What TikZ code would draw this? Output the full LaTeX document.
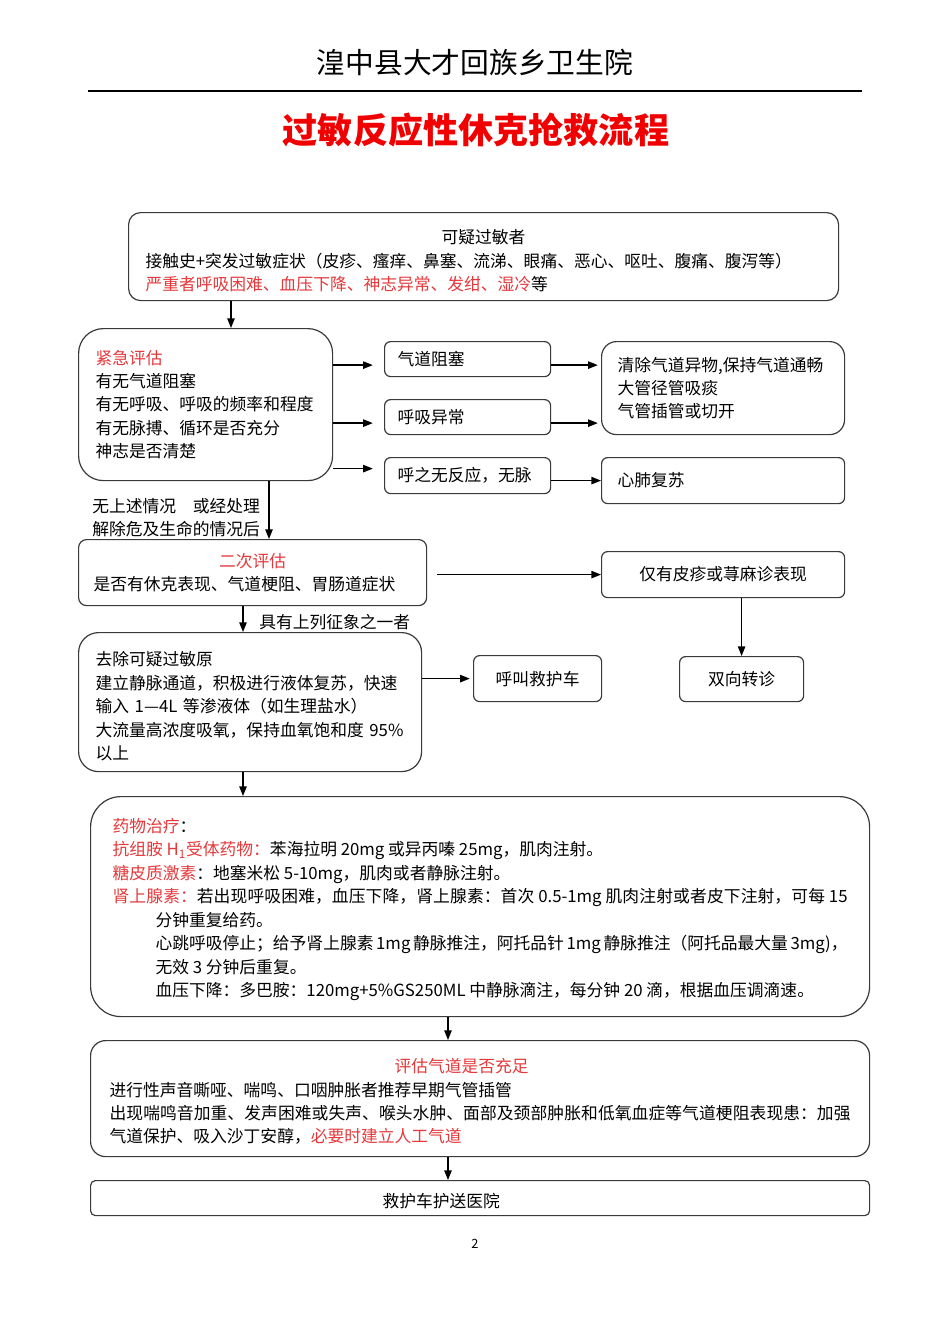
\documentclass[tikz,border=0pt]{standalone}
\usepackage{fontspec}
\setmainfont{Noto Sans CJK SC}
\usetikzlibrary{arrows.meta,positioning,calc}
\definecolor{HeadRed}{HTML}{F00000}
\definecolor{NoteRed}{HTML}{E5383B}
\definecolor{EdgeGray}{HTML}{3A3A3A}
\newdimen\pxu \pxu=0.6263pt
\newcommand\bodyfont{\fontsize{10.5pt}{14.7pt}\selectfont}

\begin{document}
\begin{tikzpicture}[x=0.6263pt,y=-0.6263pt,
    box/.style={draw=EdgeGray,line width=0.75pt,font=\bodyfont,inner ysep=0pt,anchor=north west},
    leftbox/.style={box,align=left},
    lbl/.style={font=\bodyfont,inner sep=0pt,align=left},
    arr/.style={line width=0.8pt,-{Triangle[length=6pt,width=4.6pt]}}]
      \useasboundingbox (0,0) rectangle (950,1344);

      \node (hosp) at (475,62) {\fontsize{18pt}{21pt}\selectfont 湟中县大才回族乡卫生院};
      \draw[line width=0.9pt] (88,91) -- (862,91);
      \node[text=HeadRed] (ttl) at (476,130) {\fontsize{22pt}{26pt}\selectfont\bfseries 过敏反应性休克抢救流程};

      \node[leftbox,rounded corners=7.5pt,text width=676\pxu,inner xsep=17\pxu,minimum height=88\pxu] (kg) at (128,212)
      {\rule{0pt}{23\pxu}\makebox[\linewidth]{可疑过敏者}\\
       接触史+突发过敏症状（皮疹、瘙痒、鼻塞、流涕、眼痛、恶心、呕吐、腹痛、腹泻等）\\
       {\color{NoteRed}严重者呼吸困难、血压下降、神志异常、发绀、湿冷}等};

      \node[leftbox,rounded corners=15.5pt,text width=220\pxu,inner xsep=17\pxu,minimum height=152\pxu] (jj) at (78,328)
      {{\color{NoteRed}紧急评估}\\
       有无气道阻塞\\
       有无呼吸、呼吸的频率和程度\\
       有无脉搏、循环是否充分\\
       神志是否清楚};

      \node[leftbox,rounded corners=3.8pt,text width=140\pxu,inner xsep=13\pxu,minimum height=35\pxu] (qd) at (384,341) {气道阻塞};
      \node[leftbox,rounded corners=3.8pt,text width=140\pxu,inner xsep=13\pxu,minimum height=35\pxu] (hx) at (384,399) {呼吸异常};
      \node[leftbox,rounded corners=3.8pt,text width=140\pxu,inner xsep=13\pxu,minimum height=36\pxu] (hz) at (384,457) {呼之无反应，无脉};

      \node[leftbox,rounded corners=9.4pt,text width=211\pxu,inner xsep=16\pxu,minimum height=93\pxu] (qy) at (601,341)
      {清除气道异物,保持气道通畅\\
       大管径管吸痰\\
       气管插管或切开};
      \node[leftbox,rounded corners=3.8pt,text width=211\pxu,inner xsep=16\pxu,minimum height=46\pxu] (xf) at (601,457) {心肺复苏};

      \node[lbl,anchor=west] (wq) at (92,517.5) {无上述情况　或经处理\\解除危及生命的情况后};

      \node[leftbox,rounded corners=5pt,text width=318\pxu,inner xsep=15\pxu,minimum height=66\pxu] (ec) at (78,539)
      {\makebox[\linewidth]{\color{NoteRed}二次评估}\\
       是否有休克表现、气道梗阻、胃肠道症状};

      \node[box,rounded corners=3.8pt,inner xsep=0pt,minimum width=243\pxu,minimum height=46\pxu] (jp) at (601,551) {仅有皮疹或荨麻诊表现};
      \node[box,rounded corners=3.8pt,inner xsep=0pt,minimum width=124\pxu,minimum height=45\pxu] (zz) at (679,656) {双向转诊};

      \node[lbl,anchor=west] (jy) at (259,622) {具有上列征象之一者};

      \node[leftbox,rounded corners=12.5pt,text width=309\pxu,inner xsep=17\pxu,minimum height=139\pxu] (qc) at (78,632)
      {\rule{0pt}{23\pxu}去除可疑过敏原\\
       建立静脉通道，积极进行液体复苏，快速\\
       输入 1—4L 等渗液体（如生理盐水）\\
       大流量高浓度吸氧，保持血氧饱和度 95\%\\
       以上};
      \node[box,rounded corners=3.8pt,inner xsep=0pt,minimum width=128\pxu,minimum height=46\pxu] (hj) at (473,655) {呼叫救护车};

      \node[box,rounded corners=19pt,inner xsep=0pt,minimum width=779\pxu,minimum height=220\pxu] (yw) at (90,796)
      {\begin{minipage}{735\pxu}
       \vspace*{6\pxu}
       {\color{NoteRed}药物治疗}：\par
       {\color{NoteRed}抗组胺 H\textsubscript{1}受体药物：}苯海拉明 20mg 或异丙嗪 25mg，肌肉注射。\par
       {\color{NoteRed}糖皮质激素}：地塞米松 5-10mg，肌肉或者静脉注射。\par
       \hangindent=43\pxu\hangafter=1
       {\XeTeXlinebreaklocale "zh"\XeTeXlinebreakskip=0pt plus 1pt
       {\color{NoteRed}肾上腺素：}若出现呼吸困难，血压下降，肾上腺素：首次 0.5-1mg 肌肉注射或者皮下注射，可每 15}\linebreak
       分钟重复给药。\par
       \leftskip=43\pxu
       心跳呼吸停止；给予肾上腺素 1mg 静脉推注，阿托品针 1mg 静脉推注（阿托品最大量 3mg)，\newline
       无效 3 分钟后重复。\par
       血压下降：多巴胺：120mg+5\%GS250ML 中静脉滴注，每分钟 20 滴，根据血压调滴速。\par
       \end{minipage}};

      \node[box,rounded corners=9.4pt,inner xsep=0pt,minimum width=779\pxu,minimum height=116\pxu] (pg) at (90,1040)
      {\begin{minipage}{741\pxu}
       \vspace*{6\pxu}
       \hspace*{285\pxu}{\color{NoteRed}评估气道是否充足}\par
       进行性声音嘶哑、喘鸣、口咽肿胀者推荐早期气管插管\par
       {\XeTeXlinebreaklocale "zh"\XeTeXlinebreakskip=0pt plus 1pt
       出现喘鸣音加重、发声困难或失声、喉头水肿、面部及颈部肿胀和低氧血症等气道梗阻表现患：加强}\linebreak
       气道保护、吸入沙丁安醇，{\color{NoteRed}必要时建立人工气道}\par
       \end{minipage}};

      \node[leftbox,rounded corners=3pt,text width=759\pxu,inner xsep=10\pxu,minimum height=35\pxu] (hs) at (90,1180)
      {\rule{0pt}{21\pxu}\hspace*{282\pxu}救护车护送医院};

      \node[font=\fontsize{8pt}{9pt}\selectfont] (pn) at (475,1244) {2};

      \coordinate (v1) at (231,0);
      \coordinate (v2) at (269,0);
      \coordinate (v3) at (243,0);
      \coordinate (v4) at (448,0);

      \draw[arr] (kg.south -| v1) -- (jj.north -| v1);
      \draw[arr,shorten >=7pt] ($(jj.east |- qd.west)+(0,6)$) -- ($(qd.west)+(0,6)$);
      \draw[arr,shorten >=7pt] ($(jj.east |- hx.west)+(0,6)$) -- ($(hx.west)+(0,6)$);
      \draw[arr,shorten >=7pt] ($(jj.east |- hz.west)+(0,-7)$) -- ($(hz.west)+(0,-7)$);
      \draw[arr,shorten >=2pt] ($(qd.east)+(0,6)$) -- ($(qd.east -| qy.west)+(0,6)$);
      \draw[arr,shorten >=2pt] ($(hx.east)+(0,6)$) -- ($(hx.east -| qy.west)+(0,6)$);
      \draw[arr] ($(hz.east)+(0,5)$) -- ($(hz.east -| xf.west)+(0,5)$);
      \draw[arr] (jj.south -| v2) -- (ec.north -| v2);
      \draw[arr,shorten <=6pt] (ec.east |- jp.west) -- (jp.west);
      \draw[arr] (jp.south -| zz.north) -- (zz.north);
      \draw[arr] (ec.south -| v3) -- (qc.north -| v3);
      \draw[arr,shorten >=2pt] (qc.east |- hj.west) -- (hj.west);
      \draw[arr] (qc.south -| v3) -- (yw.north -| v3);
      \draw[arr] (yw.south -| v4) -- (pg.north -| v4);
      \draw[arr] (pg.south -| v4) -- (hs.north -| v4);
    \end{tikzpicture}
\end{document}
